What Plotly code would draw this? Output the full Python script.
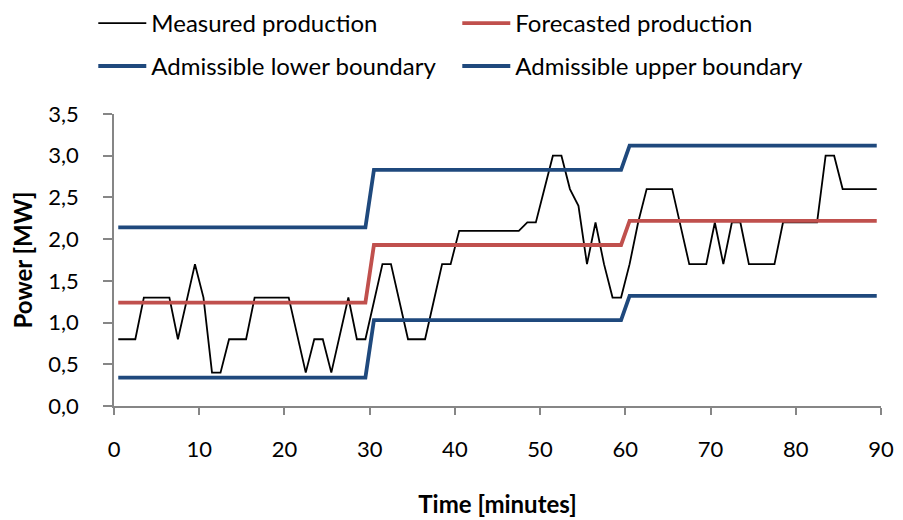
import plotly.graph_objects as go

# Time axis: one sample per minute, drawn in the middle of each minute
minutes = [i + 0.5 for i in range(90)]

measured = [
    0.8, 0.8, 0.8, 1.3, 1.3, 1.3, 1.3, 0.8, 1.25, 1.7,
    1.3, 0.4, 0.4, 0.8, 0.8, 0.8, 1.3, 1.3, 1.3, 1.3,
    1.3, 0.85, 0.4, 0.8, 0.8, 0.4, 0.85, 1.3, 0.8, 0.8,
    1.25, 1.7, 1.7, 1.25, 0.8, 0.8, 0.8, 1.25, 1.7, 1.7,
    2.1, 2.1, 2.1, 2.1, 2.1, 2.1, 2.1, 2.1, 2.2, 2.2,
    2.6, 3.0, 3.0, 2.6, 2.4, 1.7, 2.2, 1.7, 1.3, 1.3,
    1.7, 2.2, 2.6, 2.6, 2.6, 2.6, 2.15, 1.7, 1.7, 1.7,
    2.2, 1.7, 2.2, 2.2, 1.7, 1.7, 1.7, 1.7, 2.2, 2.2,
    2.2, 2.2, 2.2, 3.0, 3.0, 2.6, 2.6, 2.6, 2.6, 2.6,
]
forecast = [1.24] * 30 + [1.93] * 30 + [2.22] * 30
lower = [0.34] * 30 + [1.03] * 30 + [1.32] * 30
upper = [2.14] * 30 + [2.83] * 30 + [3.12] * 30

x_ticks = [0, 10, 20, 30, 40, 50, 60, 70, 80, 90]

FONT = "Lato"
BLUE = "#1F497D"
RED = "#C0504D"
AXIS = "#868686"

fig = go.Figure()
fig.add_trace(go.Scatter(x=minutes, y=measured, mode="lines", name="Measured production",
                         line=dict(color="black", width=1.8), legend="legend"))
fig.add_trace(go.Scatter(x=minutes, y=forecast, mode="lines", name="Forecasted production",
                         line=dict(color=RED, width=3.8), legend="legend"))
fig.add_trace(go.Scatter(x=minutes, y=lower, mode="lines", name="Admissible lower boundary",
                         line=dict(color=BLUE, width=3.8), legend="legend2"))
fig.add_trace(go.Scatter(x=minutes, y=upper, mode="lines", name="Admissible upper boundary",
                         line=dict(color=BLUE, width=3.8), legend="legend2"))

legend_common = dict(orientation="h", xanchor="left", x=-0.027, yanchor="middle",
                     entrywidth=301, entrywidthmode="pixels", itemwidth=48,
                     font=dict(family=FONT, size=24, color="black"),
                     bgcolor="rgba(0,0,0,0)", itemclick=False, itemdoubleclick=False)

fig.update_layout(
    width=903, height=520,
    margin=dict(l=106, r=30, t=106, b=122, autoexpand=False),
    paper_bgcolor="white", plot_bgcolor="white",
    separators=", ",
    font=dict(family=FONT, size=22, color="black"),
    legend=dict(y=1.310, **legend_common),
    legend2=dict(y=1.163, **legend_common),
    xaxis=dict(range=[0, 90], tickvals=x_ticks, showgrid=False, zeroline=False,
               showline=True, linecolor=AXIS, linewidth=1.5,
               ticks="outside", tickcolor=AXIS, ticklen=7, tickwidth=1.5,
               ticklabelstandoff=16,
               tickfont=dict(family=FONT, size=22),
               title=dict(text="<b>Time [minutes]</b>", font=dict(family=FONT, size=24), standoff=35)),
    yaxis=dict(range=[0, 3.5], dtick=0.5, tickformat=".1f", showgrid=False, zeroline=False,
               showline=True, linecolor=AXIS, linewidth=1.5,
               ticks="outside", tickcolor=AXIS, ticklen=9, tickwidth=1.5,
               ticklabelstandoff=20,
               tickfont=dict(family=FONT, size=22),
               title=dict(text="<b>Power [MW]</b>", font=dict(family=FONT, size=24), standoff=14)),
)

fig.write_html("out.html")
